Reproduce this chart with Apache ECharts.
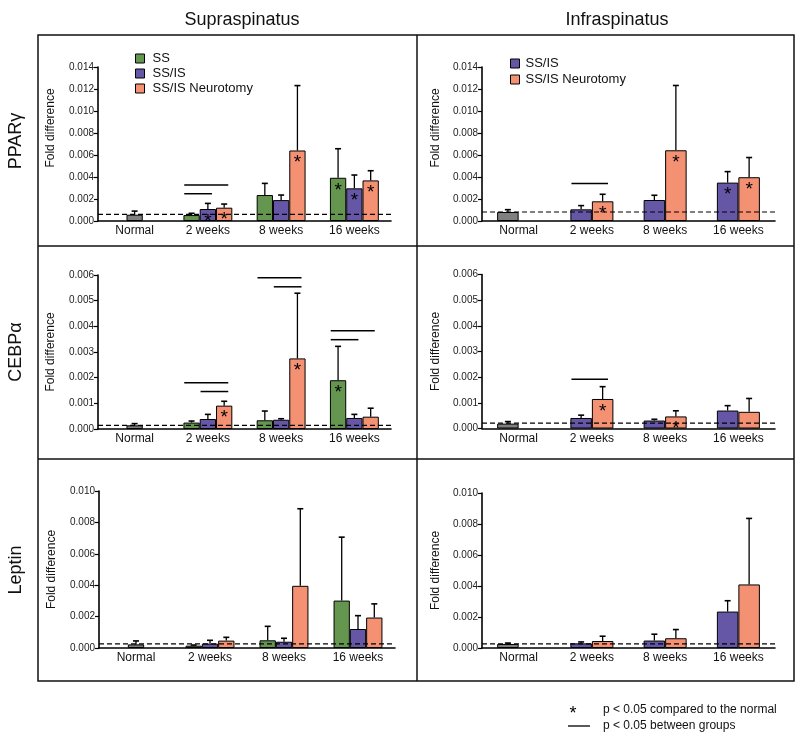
<!DOCTYPE html>
<html><head><meta charset="utf-8">
<script src="https://cdn.jsdelivr.net/npm/echarts@6/dist/echarts.min.js"></script>
<style>html,body{margin:0;padding:0;background:#fff}#c{width:800px;height:747px}</style>
</head><body><div id="c"></div>
<script>
// ---------- data ----------
const categories = ['Normal', '2 weeks', '8 weeks', '16 weeks'];
const columnTitles = ['Supraspinatus', 'Infraspinatus'];
const rowTitles = ['PPARγ', 'CEBPα', 'Leptin'];
const groupsSup = ['SS', 'SS/IS', 'SS/IS Neurotomy'];
const groupsInf = ['SS/IS', 'SS/IS Neurotomy'];
const yMax = [0.014, 0.006, 0.010];
const yStep = [0.002, 0.001, 0.002];

// PPARγ – Supraspinatus
const pparSupNormal = [0.00057, 0.0009];           // mean, upper error
const pparSupSS     = [null, 0.00054, 0.00236, 0.00393];
const pparSupSSErr  = [null, 0.0007, 0.00342, 0.00657];
const pparSupSSIS   = [null, 0.00109, 0.0019, 0.00297];
const pparSupSSISErr= [null, 0.0016, 0.00236, 0.00418];
const pparSupNeu    = [null, 0.00121, 0.00641, 0.00369];
const pparSupNeuErr = [null, 0.00154, 0.01231, 0.00457];
const pparSupDash   = 0.0006;
const pparSupStars  = [['SS/IS', 1], ['SS/IS Neurotomy', 1], ['SS/IS Neurotomy', 2], ['SS', 3], ['SS/IS', 3], ['SS/IS Neurotomy', 3]];
const pparSupSig    = [[1, 'SS', 'SS/IS Neurotomy', 0.00327], [1, 'SS', 'SS/IS', 0.00248]];

// PPARγ – Infraspinatus
const pparInfNormal = [0.00082, 0.00103];
const pparInfSSIS   = [null, 0.00106, 0.00191, 0.00349];
const pparInfSSISErr= [null, 0.0014, 0.00234, 0.00449];
const pparInfNeu    = [null, 0.00179, 0.00643, 0.00398];
const pparInfNeuErr = [null, 0.00243, 0.01232, 0.00577];
const pparInfDash   = 0.00082;
const pparInfStars  = [['SS/IS Neurotomy', 1], ['SS/IS Neurotomy', 2], ['SS/IS', 3], ['SS/IS Neurotomy', 3]];
const pparInfSig    = [[1, 'SS/IS', 'SS/IS Neurotomy', 0.0034]];

// CEBPα – Supraspinatus
const cebpSupNormal = [0.000143, 0.00021];
const cebpSupSS     = [null, 0.00025, 0.00034, 0.0019];
const cebpSupSSErr  = [null, 0.00031, 0.0007, 0.00322];
const cebpSupSSIS   = [null, 0.00039, 0.00036, 0.00043];
const cebpSupSSISErr= [null, 0.00057, 0.0004, 0.00057];
const cebpSupNeu    = [null, 0.00091, 0.00275, 0.00048];
const cebpSupNeuErr = [null, 0.00108, 0.00529, 0.00081];
const cebpSupDash   = 0.00014;
const cebpSupStars  = [['SS/IS Neurotomy', 1], ['SS/IS Neurotomy', 2], ['SS', 3]];
const cebpSupSig    = [[1, 'SS', 'SS/IS Neurotomy', 0.0018], [1, 'SS/IS', 'SS/IS Neurotomy', 0.00146],
                       [2, 'SS', 'SS/IS Neurotomy', 0.00589], [2, 'SS/IS', 'SS/IS Neurotomy', 0.00554],
                       [3, 'SS', 'SS/IS Neurotomy', 0.00383], [3, 'SS', 'SS/IS', 0.00348]];

// CEBPα – Infraspinatus
const cebpInfNormal = [0.00019, 0.00027];
const cebpInfSSIS   = [null, 0.00041, 0.00031, 0.0007];
const cebpInfSSISErr= [null, 0.00052, 0.00036, 0.00089];
const cebpInfNeu    = [null, 0.00115, 0.00047, 0.00065];
const cebpInfNeuErr = [null, 0.00163, 0.00069, 0.00117];
const cebpInfDash   = 0.00021;
const cebpInfStars  = [['SS/IS Neurotomy', 1], ['SS/IS Neurotomy', 2]];
const cebpInfSig    = [[1, 'SS/IS', 'SS/IS Neurotomy', 0.00192]];

// Leptin – Supraspinatus
const leptSupNormal = [0.00023, 0.00045];
const leptSupSS     = [null, 0.00015, 0.00049, 0.00302];
const leptSupSSErr  = [null, 0.00019, 0.00138, 0.00706];
const leptSupSSIS   = [null, 0.00028, 0.0004, 0.00121];
const leptSupSSISErr= [null, 0.00049, 0.00062, 0.00206];
const leptSupNeu    = [null, 0.00047, 0.00396, 0.00194];
const leptSupNeuErr = [null, 0.00068, 0.00887, 0.00281];
const leptSupDash   = 0.00026;

// Leptin – Infraspinatus
const leptInfNormal = [0.00026, 0.00032];
const leptInfSSIS   = [null, 0.0003, 0.00048, 0.00235];
const leptInfSSISErr= [null, 0.00039, 0.00089, 0.00305];
const leptInfNeu    = [null, 0.00045, 0.00063, 0.0041];
const leptInfNeuErr = [null, 0.00076, 0.00119, 0.00836];
const leptInfDash   = 0.00026;

const footnotes = ['p < 0.05 compared to the normal', 'p < 0.05 between groups'];

// ---------- layout / style ----------
const FONT = 'Liberation Sans, Arial, Helvetica, sans-serif';
const colors = {'SS': '#649650', 'SS/IS': '#6656a6', 'SS/IS Neurotomy': '#f59173'};
const normalColor = '#808080';
const grids = [
  {left: 98, top: 67, width: 293, height: 154},
  {left: 482, top: 67, width: 293, height: 154},
  {left: 98, top: 275, width: 293, height: 154},
  {left: 482, top: 274.5, width: 293, height: 154},
  {left: 99, top: 491, width: 296, height: 157},
  {left: 482, top: 493, width: 293, height: 155}
];

const panels = [
  {row: 0, groups: groupsSup, normal: pparSupNormal, means: [pparSupSS, pparSupSSIS, pparSupNeu], errs: [pparSupSSErr, pparSupSSISErr, pparSupNeuErr], dash: pparSupDash, stars: pparSupStars, sig: pparSupSig},
  {row: 0, groups: groupsInf, normal: pparInfNormal, means: [pparInfSSIS, pparInfNeu], errs: [pparInfSSISErr, pparInfNeuErr], dash: pparInfDash, stars: pparInfStars, sig: pparInfSig},
  {row: 1, groups: groupsSup, normal: cebpSupNormal, means: [cebpSupSS, cebpSupSSIS, cebpSupNeu], errs: [cebpSupSSErr, cebpSupSSISErr, cebpSupNeuErr], dash: cebpSupDash, stars: cebpSupStars, sig: cebpSupSig},
  {row: 1, groups: groupsInf, normal: cebpInfNormal, means: [cebpInfSSIS, cebpInfNeu], errs: [cebpInfSSISErr, cebpInfNeuErr], dash: cebpInfDash, stars: cebpInfStars, sig: cebpInfSig},
  {row: 2, groups: groupsSup, normal: leptSupNormal, means: [leptSupSS, leptSupSSIS, leptSupNeu], errs: [leptSupSSErr, leptSupSSISErr, leptSupNeuErr], dash: leptSupDash, stars: [], sig: []},
  {row: 2, groups: groupsInf, normal: leptInfNormal, means: [leptInfSSIS, leptInfNeu], errs: [leptInfSSISErr, leptInfNeuErr], dash: leptInfDash, stars: [], sig: []}
];

const xAxes = [], yAxes = [], series = [];
panels.forEach((p, idx) => {
  const n = p.groups.length;
  const bw = n === 3 ? 16.3 : 21.5;
  const normalSlot = p.groups.indexOf('SS/IS');
  xAxes.push({
    type: 'category', gridIndex: idx, data: categories,
    axisTick: {show: false},
    axisLine: {lineStyle: {color: '#000', width: 1.6}},
    axisLabel: {fontSize: 12, color: '#111', margin: 4, fontFamily: FONT, interval: 0}
  });
  yAxes.push({
    type: 'value', gridIndex: idx, min: 0, max: yMax[p.row], interval: yStep[p.row],
    splitLine: {show: false},
    axisLine: {show: true, lineStyle: {color: '#000', width: 1.6}},
    axisTick: {show: true, length: 4, lineStyle: {color: '#000', width: 1.2}},
    axisLabel: {fontSize: 10, color: '#222', margin: 4, fontFamily: FONT, formatter: v => v.toFixed(3)},
    name: 'Fold difference', nameLocation: 'middle', nameGap: idx % 2 ? 40 : 41,
    nameTextStyle: {fontSize: 12, color: '#111', fontFamily: FONT, padding: p.row === 0 ? [0, 0, 0, 32] : 0}
  });
  p.groups.forEach((g, gi) => {
    const data = p.means[gi].map((v, ci) => {
      if (ci === 0) {
        return g === 'SS/IS' ? {value: p.normal[0], itemStyle: {color: normalColor}} : '-';
      }
      const item = {value: v};
      if (p.stars.some(s => s[0] === g && s[1] === ci)) item.label = {show: true};
      return item;
    });
    series.push({
      type: 'bar', name: g, xAxisIndex: idx, yAxisIndex: idx,
      barWidth: bw, barGap: '0%',
      itemStyle: {color: colors[g], borderColor: '#000', borderWidth: 1},
      label: {show: false, position: 'insideTop', distance: 3, formatter: '*', fontSize: 19, color: '#000', fontFamily: FONT},
      emphasis: {disabled: true},
      data
    });
  });
  // dashed reference line at the normal level
  series.push({
    type: 'custom', xAxisIndex: idx, yAxisIndex: idx, silent: true, z: 4,
    encode: {x: 0, y: 1},
    data: [[0, p.dash]],
    renderItem: (params, api) => {
      const cs = params.coordSys;
      const y = api.coord([0, api.value(1)])[1];
      return {type: 'line', shape: {x1: cs.x, y1: y, x2: cs.x + cs.width, y2: y},
              style: {stroke: '#000', lineWidth: 1.2, lineDash: [5, 3]}};
    }
  });
  // error bars
  const errData = [[0, normalSlot, p.normal[0], p.normal[1]]];
  p.groups.forEach((g, gi) => {
    p.means[gi].forEach((v, ci) => {
      if (ci > 0 && v != null) errData.push([ci, gi, v, p.errs[gi][ci]]);
    });
  });
  series.push({
    type: 'custom', xAxisIndex: idx, yAxisIndex: idx, silent: true, z: 3,
    encode: {x: 0, y: [2, 3]},
    data: errData,
    renderItem: (params, api) => {
      const cat = api.value(0), slot = api.value(1);
      const p0 = api.coord([cat, api.value(2)]);
      const p1 = api.coord([cat, api.value(3)]);
      const x = p0[0] + (slot - (n - 1) / 2) * bw;
      return {type: 'group', children: [
        {type: 'line', shape: {x1: x, y1: p0[1], x2: x, y2: p1[1]}, style: {stroke: '#000', lineWidth: 1.3}},
        {type: 'line', shape: {x1: x - 3, y1: p1[1], x2: x + 3, y2: p1[1]}, style: {stroke: '#000', lineWidth: 1.6}}
      ]};
    }
  });
  // significance lines between groups
  if (p.sig.length) {
    series.push({
      type: 'custom', xAxisIndex: idx, yAxisIndex: idx, silent: true, z: 3,
      encode: {x: 0, y: 3},
      data: p.sig.map(s => [s[0], p.groups.indexOf(s[1]), p.groups.indexOf(s[2]), s[3]]),
      renderItem: (params, api) => {
        const c = api.coord([api.value(0), api.value(3)]);
        const xa = c[0] + (api.value(1) - (n - 1) / 2) * bw - 0.45 * bw;
        const xb = c[0] + (api.value(2) - (n - 1) / 2) * bw + 0.25 * bw;
        return {type: 'line', shape: {x1: xa, y1: c[1], x2: xb, y2: c[1]}, style: {stroke: '#000', lineWidth: 1.5}};
      }
    });
  }
});

const graphic = [
  {type: 'rect', shape: {x: 38, y: 35, width: 756, height: 646}, style: {fill: 'none', stroke: '#111', lineWidth: 1.5}, silent: true},
  {type: 'line', shape: {x1: 417, y1: 35, x2: 417, y2: 681}, style: {stroke: '#111', lineWidth: 1.5}, silent: true},
  {type: 'line', shape: {x1: 38, y1: 246, x2: 794, y2: 246}, style: {stroke: '#111', lineWidth: 1.5}, silent: true},
  {type: 'line', shape: {x1: 38, y1: 459, x2: 794, y2: 459}, style: {stroke: '#111', lineWidth: 1.5}, silent: true},
  {type: 'text', x: 242, y: 20, style: {text: columnTitles[0], font: '18px ' + FONT, fill: '#111', textAlign: 'center', textVerticalAlign: 'middle'}},
  {type: 'text', x: 617, y: 20, style: {text: columnTitles[1], font: '18px ' + FONT, fill: '#111', textAlign: 'center', textVerticalAlign: 'middle'}},
  {type: 'text', x: 16, y: 141, rotation: Math.PI / 2, style: {text: rowTitles[0], font: '18px ' + FONT, fill: '#111', textAlign: 'center', textVerticalAlign: 'middle'}},
  {type: 'text', x: 16, y: 352, rotation: Math.PI / 2, style: {text: rowTitles[1], font: '18px ' + FONT, fill: '#111', textAlign: 'center', textVerticalAlign: 'middle'}},
  {type: 'text', x: 16, y: 570, rotation: Math.PI / 2, style: {text: rowTitles[2], font: '18px ' + FONT, fill: '#111', textAlign: 'center', textVerticalAlign: 'middle'}},
  {type: 'text', x: 573, y: 714, style: {text: '*', font: '18px ' + FONT, fill: '#000', textAlign: 'center', textVerticalAlign: 'middle'}},
  {type: 'text', x: 603, y: 710, style: {text: footnotes[0], font: '12px ' + FONT, fill: '#111', textAlign: 'left', textVerticalAlign: 'middle'}},
  {type: 'line', shape: {x1: 568, y1: 726, x2: 590, y2: 726}, style: {stroke: '#000', lineWidth: 1.3}},
  {type: 'text', x: 603, y: 726, style: {text: footnotes[1], font: '12px ' + FONT, fill: '#111', textAlign: 'left', textVerticalAlign: 'middle'}}
];

const chart = echarts.init(document.getElementById('c'), null, {renderer: 'canvas'});
chart.setOption({
  animation: false,
  backgroundColor: '#fff',
  textStyle: {fontFamily: FONT},
  grid: grids,
  xAxis: xAxes,
  yAxis: yAxes,
  legend: [
    {data: groupsSup, orient: 'vertical', left: 130, top: 47, itemWidth: 9, itemHeight: 9, itemGap: 2, icon: 'rect',
     itemStyle: {borderColor: '#000', borderWidth: 1}, textStyle: {fontSize: 13, color: '#111', padding: [0, 0, 0, 3]}, selectedMode: false},
    {data: groupsInf, orient: 'vertical', left: 505, top: 52, itemWidth: 9, itemHeight: 9, itemGap: 3, icon: 'rect',
     itemStyle: {borderColor: '#000', borderWidth: 1}, textStyle: {fontSize: 13, color: '#111', padding: [0, 0, 0, 1]}, selectedMode: false}
  ],
  series,
  graphic
});
</script>
</body></html>
